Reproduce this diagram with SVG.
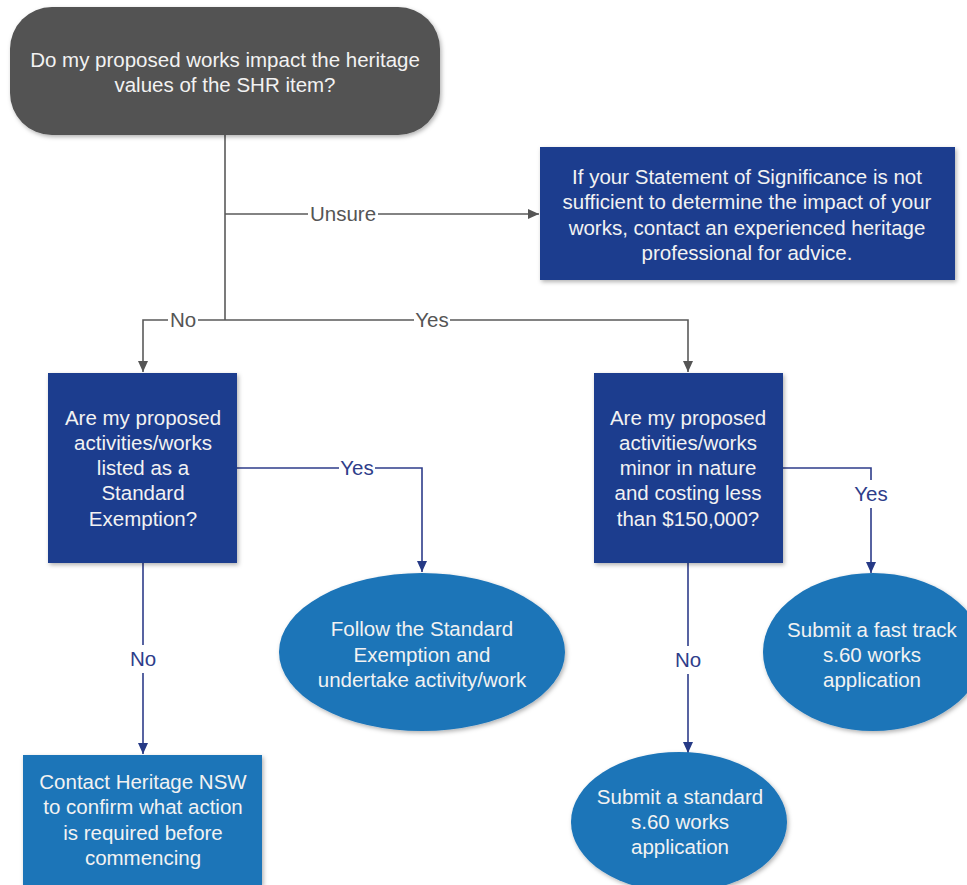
<svg xmlns="http://www.w3.org/2000/svg" width="967" height="885" viewBox="0 0 967 885">
<defs>
<filter id="sh" x="-10%" y="-10%" width="125%" height="130%">
<feDropShadow dx="1.5" dy="2" stdDeviation="2" flood-color="#000" flood-opacity="0.3"/>
</filter>
<marker id="ag" markerUnits="userSpaceOnUse" markerWidth="12" markerHeight="12" viewBox="0 0 12 12" refX="11" refY="6" orient="auto">
<path d="M0,1 L11,6 L0,11 z" fill="#555"/>
</marker>
<marker id="an" markerUnits="userSpaceOnUse" markerWidth="12" markerHeight="12" viewBox="0 0 12 12" refX="11" refY="6" orient="auto">
<path d="M0,1 L11,6 L0,11 z" fill="#263a86"/>
</marker>
</defs>
<style>
text{font-family:"Liberation Sans",Arial,sans-serif;font-size:20.5px;text-anchor:middle}
.t{fill:#f2f2f2}
.lg{fill:#555}
.ln{fill:#2e3d8a}
.cg{fill:none;stroke:#5a5a5a;stroke-width:1.6}
.cn{fill:none;stroke:#2e3d8a;stroke-width:1.6}
.navy{fill:#1c3d8e}
.blue{fill:#1b74b8}
.bg{fill:#fff}
</style>
<rect width="967" height="885" fill="#fff"/>
<g id="connectors">
<path class="cg" d="M225,135 V320"/>
<path class="cg" d="M225,214 H539" marker-end="url(#ag)"/>
<path class="cg" d="M225,320 H143 V372" marker-end="url(#ag)"/>
<path class="cg" d="M225,320 H688 V372" marker-end="url(#ag)"/>
<path class="cn" d="M237,468 H422 V572" marker-end="url(#an)"/>
<path class="cn" d="M143,563 V754" marker-end="url(#an)"/>
<path class="cn" d="M783,468 H871 V573" marker-end="url(#an)"/>
<path class="cn" d="M688,563 V753" marker-end="url(#an)"/>
<rect class="bg" x="308" y="202" width="70" height="24"/>
<text class="lg" x="343" y="221">Unsure</text>
<rect class="bg" x="168" y="308" width="30" height="24"/>
<text class="lg" x="183" y="327">No</text>
<rect class="bg" x="414" y="308" width="36" height="24"/>
<text class="lg" x="432" y="327">Yes</text>
<rect class="bg" x="339" y="456" width="36" height="24"/>
<text class="ln" x="357" y="475">Yes</text>
<rect class="bg" x="128" y="645" width="30" height="28"/>
<text class="ln" x="143" y="666">No</text>
<rect class="bg" x="853" y="480" width="36" height="28"/>
<text class="ln" x="871" y="501">Yes</text>
<rect class="bg" x="673" y="646" width="30" height="28"/>
<text class="ln" x="688" y="667">No</text>
</g>
<g id="start">
<rect x="10" y="7" width="430" height="128" rx="42" fill="#525252" filter="url(#sh)"/>
<text class="t" x="225" y="67">Do my proposed works impact the heritage</text>
<text class="t" x="225" y="92">values of the SHR item?</text>
</g>
<g id="unsure">
<rect class="navy" x="540" y="147" width="415" height="133" filter="url(#sh)"/>
<text class="t" x="747" y="184">If your Statement of Significance is not</text>
<text class="t" x="747" y="209">sufficient to determine the impact of your</text>
<text class="t" x="747" y="235">works, contact an experienced heritage</text>
<text class="t" x="747" y="260">professional for advice.</text>
</g>
<g id="q-exemption">
<rect class="navy" x="48" y="373" width="189" height="190" filter="url(#sh)"/>
<text class="t" x="143" y="425">Are my proposed</text>
<text class="t" x="143" y="450">activities/works</text>
<text class="t" x="143" y="475">listed as a</text>
<text class="t" x="143" y="500">Standard</text>
<text class="t" x="143" y="526">Exemption?</text>
</g>
<g id="q-minor">
<rect class="navy" x="594" y="373" width="189" height="190" filter="url(#sh)"/>
<text class="t" x="688" y="425">Are my proposed</text>
<text class="t" x="688" y="450">activities/works</text>
<text class="t" x="688" y="475">minor in nature</text>
<text class="t" x="688" y="500">and costing less</text>
<text class="t" x="688" y="526">than $150,000?</text>
</g>
<g id="follow">
<ellipse class="blue" cx="422" cy="652" rx="143" ry="79" filter="url(#sh)"/>
<text class="t" x="422" y="636">Follow the Standard</text>
<text class="t" x="422" y="662">Exemption and</text>
<text class="t" x="422" y="687">undertake activity/work</text>
</g>
<g id="fasttrack">
<ellipse class="blue" cx="873" cy="652" rx="110" ry="79" filter="url(#sh)"/>
<text class="t" x="872" y="637">Submit a fast track</text>
<text class="t" x="872" y="662">s.60 works</text>
<text class="t" x="872" y="687">application</text>
</g>
<g id="contact">
<rect class="blue" x="23" y="755" width="239" height="130" filter="url(#sh)"/>
<text class="t" x="143" y="789">Contact Heritage NSW</text>
<text class="t" x="143" y="814">to confirm what action</text>
<text class="t" x="143" y="840">is required before</text>
<text class="t" x="143" y="865">commencing</text>
</g>
<g id="standard">
<ellipse class="blue" cx="679" cy="822" rx="108" ry="70" filter="url(#sh)"/>
<text class="t" x="680" y="804">Submit a standard</text>
<text class="t" x="680" y="829">s.60 works</text>
<text class="t" x="680" y="854">application</text>
</g>
</svg>
